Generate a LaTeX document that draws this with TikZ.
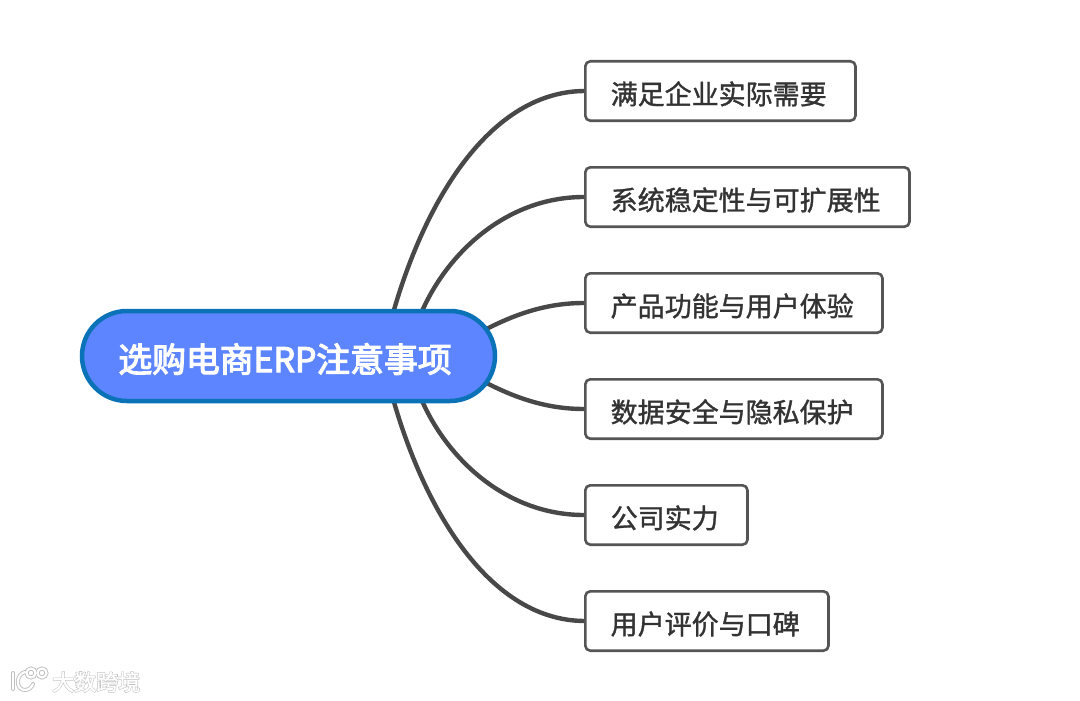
\documentclass[tikz,border=0pt]{standalone}
\usepackage{fontspec}
\setmainfont[FakeBold=1.2]{Noto Sans CJK SC}
\newfontfamily\boldcjk[FakeBold=3.4]{Noto Sans CJK SC}
\newfontfamily\haloncjk[FakeBold=6]{Noto Sans CJK SC}
\usetikzlibrary{positioning,shapes.misc,backgrounds}
\definecolor{rootfill}{HTML}{5C85FF}
\definecolor{rootline}{HTML}{0B72B8}
\definecolor{linkgray}{HTML}{484848}
\definecolor{boxgray}{HTML}{555555}
\definecolor{textgray}{HTML}{333333}
\tikzstyle{topic} = [draw=rootline,fill=rootfill,rounded rectangle,line width=4.5pt,minimum width=413pt,minimum height=90pt,inner sep=0pt,text height=36pt,text depth=4pt,text=white,font=\boldcjk\fontsize{33.8}{33.8}\selectfont,execute at end node=\hspace{7pt}]
\tikzstyle{item} = [draw=boxgray,fill=white,rounded corners=5pt,line width=2.6pt,anchor=west,minimum height=59.4pt,inner xsep=25.4pt,inner ysep=0pt,text height=29.5pt,text depth=3pt,text=textgray,font=\fontsize{27}{27}\selectfont,execute at end node=\hspace{3.4pt}]
\tikzstyle{branch} = [draw=linkgray,line width=4.4pt]
\tikzstyle{logoback} = [draw=black!25,line width=4pt,line cap=round]
\tikzstyle{logofront} = [draw=white,line width=2.2pt,line cap=round]
\begin{document}
\begin{tikzpicture}[x=1pt,y=-1pt]
	\useasboundingbox (0,0) rectangle (1080,701);

	\node (root)[topic] at (288.5,356) {选购电商ERP注意事项};

	\node (b1)[item] at (584,91) {满足企业实际需要};
	\node (b2)[item] at (584,197) {系统稳定性与可扩展性};
	\node (b3)[item] at (584,303) {产品功能与用户体验};
	\node (b4)[item] at (584,409) {数据安全与隐私保护};
	\node (b5)[item] at (584,515) {公司实力};
	\node (b6)[item] at (584,621) {用户评价与口碑};

	\coordinate (s1) at (386,340);
	\coordinate (s2) at (420,316);
	\coordinate (s3) at (470,338);
	\coordinate (s4) at (470,374);
	\coordinate (s5) at (420,396);
	\coordinate (s6) at (386,372);

	\begin{scope}[on background layer]
		\draw[branch] (s1) .. controls (416,215) and (484,92) .. (b1.west);
		\draw[branch] (s2) .. controls (445,255) and (505,197) .. (b2.west);
		\draw[branch] (s3) .. controls (510,315) and (545,303) .. (b3.west);
		\draw[branch] (s4) .. controls (510,397) and (545,409) .. (b4.west);
		\draw[branch] (s5) .. controls (445,457) and (505,515) .. (b5.west);
		\draw[branch] (s6) .. controls (416,497) and (484,620) .. (b6.west);
	\end{scope}

	% watermark
	\node (markback)[anchor=west,inner sep=0pt,text=black!25,font=\haloncjk\fontsize{22}{22}\selectfont] at (52,682) {大数跨境};
	\node (mark)[anchor=west,inner sep=0pt,text=white,font=\fontsize{22}{22}\selectfont] at (52,682) {大数跨境};
	\foreach \style in {logoback,logofront} {
		\draw[\style] (13,673) -- (13,689);
		\draw[\style] (25,672) .. controls (16,674) and (15,690) .. (25,690) .. controls (29,690) and (32,687) .. (33,684);
		\draw[\style] (31,673) circle (4.5);
		\draw[\style] (42,673) circle (4.5);
	}
\end{tikzpicture}
\end{document}
